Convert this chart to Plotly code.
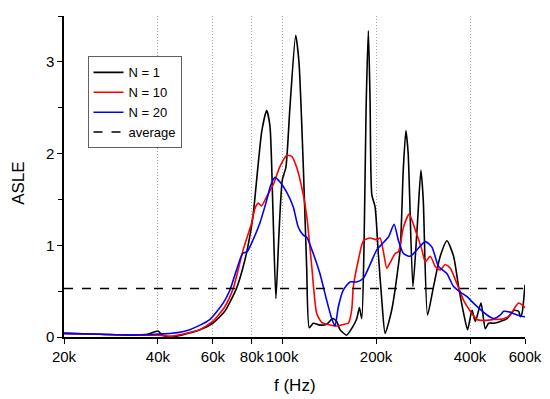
import math
import plotly.graph_objects as go

# frequencies in kHz, ASLE values
f_n1 = [20, 26.0, 32.5, 37.1, 40.0, 41.4, 44.3, 48.7, 54.5, 59.9, 65.5, 71.4, 74.8, 77.6, 80.6,
        83.6, 86.1, 89.2, 91.4, 93.4, 95.5, 97.6, 100.1, 102.8, 105.9, 110.5, 113.2, 116.9, 119.8,
        122.2, 125.8, 132.2, 138.9, 145.2, 149.6, 153.3, 161.0, 167.5, 173.4, 176.8, 179.9, 183.0,
        185.8, 188.9, 191.3, 193.8, 198.5, 203.4, 208.6, 213.8, 224.6, 238.8, 244.2, 249.2, 253.4,
        262.4, 270.9, 278.4, 283.2, 292.3, 305.5, 321.0, 337.4, 354.2, 367.6, 381.4, 392.8, 405.8,
        415.8, 433.6, 447.7, 458.8, 476.2, 500.2, 525.7, 551.9, 572.6, 579.9, 587.2, 600]
asle_n1 = [0.04, 0.03, 0.02, 0.03, 0.065, 0.02, 0.0, 0.03, 0.08, 0.15, 0.28, 0.53, 0.75, 0.98, 1.31,
           1.85, 2.25, 2.47, 2.3, 1.4, 0.42, 1.1, 1.71, 1.85, 2.5, 3.29, 3.0, 1.86, 0.77,
           0.1, 0.15, 0.13, 0.14, 0.2, 0.17, 0.08, 0.02, 0.1, 0.2, 0.32, 0.2, 1.0,
           2.5, 3.34, 2.58, 1.55, 1.42, 0.9, 0.4, 0.04, 0.3, 0.95, 1.8, 2.25, 2.0,
           0.55, 1.2, 1.82, 1.5, 0.24, 0.55, 0.88, 1.05, 0.88, 0.55, 0.26, 0.08, 0.29,
           0.17, 0.37, 0.09, 0.15, 0.15, 0.17, 0.2, 0.29, 0.28, 0.22, 0.26, 0.57]

f_n10 = [20, 26.0, 32.5, 39.3, 44.3, 50.6, 54.5, 59.9, 65.5, 69.7, 75.0, 79.8, 81.8, 83.8, 85.9,
         89.2, 93.6, 98.4, 103.4, 107.3, 111.3, 116.9, 120.1, 124.4, 129.0, 133.9, 142.4, 149.6,
         158.0, 163.0, 167.0, 169.1, 175.5, 182.1, 191.3, 201.0, 206.0, 210.6, 216.5, 221.8, 230.2,
         235.9, 244.8, 255.3, 266.9, 280.5, 287.4, 298.2, 309.4, 321.0, 333.2, 345.8, 363.2, 381.4,
         400.8, 421.0, 442.2, 476.2, 512.6, 538.6, 559.0, 572.6, 587.2, 600]
asle_n10 = [0.04, 0.03, 0.02, 0.02, 0.01, 0.05, 0.08, 0.17, 0.33, 0.53, 0.95, 1.24, 1.40, 1.46, 1.43,
            1.53, 1.66, 1.86, 1.98, 1.97, 1.85, 1.55, 1.3, 0.77, 0.26, 0.16, 0.13, 0.12,
            0.14, 0.15, 0.29, 0.55, 0.84, 1.05, 1.08, 1.06, 1.08, 0.95, 0.75, 0.81, 0.91,
            0.93, 1.2, 1.34, 1.17, 0.95, 0.82, 0.88, 0.77, 0.73, 0.79, 0.75, 0.58, 0.4,
            0.28, 0.19, 0.18, 0.19, 0.2, 0.24, 0.33, 0.37, 0.35, 0.32]

f_n20 = [20, 26.0, 32.5, 39.3, 44.3, 50.6, 58.6, 64.7, 68.0, 71.4, 74.7, 77.2, 80.7, 84.8, 89.2,
         92.0, 94.8, 98.4, 103.4, 108.5, 112.6, 116.9, 119.8, 125.8, 132.2, 138.9, 144.2, 147.7,
         151.4, 157.0, 165.0, 173.4, 182.1, 191.3, 201.0, 211.1, 219.1, 228.4, 235.9, 244.8, 257.2,
         270.3, 287.4, 301.9, 317.0, 337.4, 354.2, 372.2, 391.1, 415.8, 453.4, 476.2, 500.2, 512.6,
         538.6, 566.0, 600]
asle_n20 = [0.04, 0.03, 0.02, 0.03, 0.04, 0.08, 0.19, 0.37, 0.51, 0.73, 0.91, 0.93, 1.06, 1.24, 1.49,
            1.66, 1.74, 1.69, 1.58, 1.42, 1.2, 1.11, 1.09, 0.91, 0.69, 0.4, 0.2, 0.12,
            0.33, 0.51, 0.6, 0.6, 0.64, 0.79, 0.95, 1.03, 1.09, 1.23, 1.05, 0.91, 0.88,
            0.95, 1.04, 0.98, 0.77, 0.69, 0.55, 0.49, 0.44, 0.35, 0.24, 0.2, 0.24, 0.28,
            0.27, 0.24, 0.22]

f_avg = [20, 600]
asle_avg = [0.53, 0.53]

x_tickvals = [20, 40, 60, 80, 100, 200, 400, 600]
x_ticktext = ["20k", "40k", "60k", "80k", "100k", "200k", "400k", "600k"]
x_gridvals = [40, 60, 80, 100, 200, 400]

FONT = "Liberation Sans, Arial, sans-serif"

fig = go.Figure()
series = [("N = 1", f_n1, asle_n1, "#000000"),
          ("N = 10", f_n10, asle_n10, "#ff0000"),
          ("N = 20", f_n20, asle_n20, "#0000ff")]
for name, fx, fy, col in series:
    fig.add_trace(go.Scatter(x=fx, y=fy, name=name, mode="lines",
                             line=dict(color=col, width=1.6, shape="spline", smoothing=0.6)))
fig.add_trace(go.Scatter(x=f_avg, y=asle_avg, name="average", mode="lines",
                         line=dict(color="#000000", width=1.5, dash="dash")))

fig.update_layout(
    width=550, height=399,
    # the page body adds an 8px offset; margins compensate for it
    margin=dict(l=56, r=33, t=8, b=70, autoexpand=False),
    paper_bgcolor="white", plot_bgcolor="white",
    font=dict(family=FONT, size=15, color="black"),
    showlegend=True,
    legend=dict(x=0.051, y=0.874, xanchor="left", yanchor="top",
                bordercolor="#606060", borderwidth=1, bgcolor="white",
                font=dict(size=13, family=FONT), tracegroupgap=0),
    annotations=[
        dict(text="f (Hz)", x=0.5, y=-0.151, xref="paper", yref="paper",
             showarrow=False, font=dict(size=17, family=FONT), xanchor="center", yanchor="middle"),
        dict(text="ASLE", x=-0.0985, y=0.479, xref="paper", yref="paper", textangle=-90,
             showarrow=False, font=dict(size=17, family=FONT), xanchor="center", yanchor="middle"),
    ],
)
fig.update_xaxes(type="log", range=[math.log10(20), math.log10(600)], automargin=False,
                 tickvals=x_tickvals, ticktext=x_ticktext, tickangle=0,
                 ticks="outside", ticklen=5, tickwidth=1.3, tickcolor="black",
                 showline=True, linecolor="black", linewidth=1.5,
                 showgrid=False, zeroline=False,
                 tickfont=dict(size=15, family=FONT),
                 minor=dict(tickvals=x_gridvals, showgrid=True, griddash="1px,2px",
                            gridcolor="#aaaaaa", gridwidth=1, ticks=""))
fig.update_yaxes(range=[0, 3.5], tickvals=[0, 1, 2, 3], automargin=False,
                 ticks="outside", ticklen=5, tickwidth=1.3, tickcolor="black",
                 showline=True, linecolor="black", linewidth=1.5,
                 showgrid=False, zeroline=False,
                 tickfont=dict(size=15, family=FONT),
                 minor=dict(dtick=0.5, ticks="outside", ticklen=4, tickwidth=1.3,
                            tickcolor="black", showgrid=False))

fig.write_html("out.html")
